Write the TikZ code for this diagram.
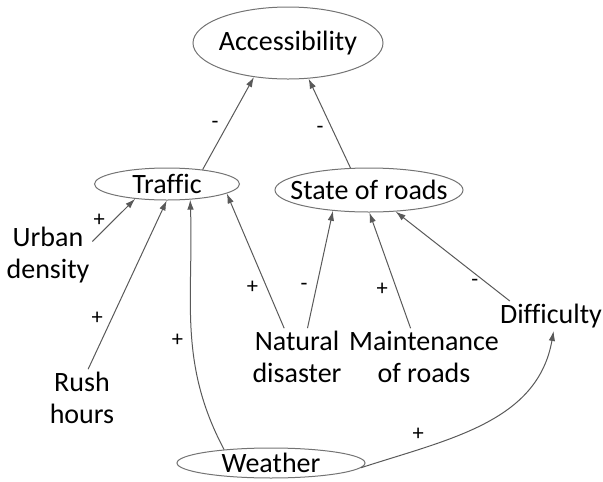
\documentclass[tikz,border=0pt]{standalone}
\usepackage{fontspec}
\setmainfont{Carlito}[Ligatures=CommonOff]
\usetikzlibrary{shapes,arrows.meta}

\begin{document}
\begin{tikzpicture}[x=0.4pt, y=0.4pt, font=\fontsize{11.2}{12.8}\selectfont, >={Latex[length=4pt,width=2.6pt]}]
	\useasboundingbox (0,0) rectangle (603,-482);
	\begin{scope}[every node/.style={ellipse, draw=black!55, thin, inner xsep=-10pt, inner ysep=-2pt}]
		\node[minimum width=76pt, minimum height=28.8pt] (acc) at (288,-43) {Accessibility};
		\node[minimum width=58pt, minimum height=12.8pt] (traffic) at (167,-184) {Traffic};
		\node[minimum width=75.2pt, minimum height=17.6pt] (roads) at (369,-190) {State of roads};
		\node[minimum width=75.2pt, minimum height=12pt] (weather) at (271,-463) {Weather};
	\end{scope}
	\begin{scope}[every node/.style={align=center, inner sep=1pt}]
		\node (urban) at (48,-255) {Urban\\density};
		\node (rush) at (82,-398) {Rush\\hours};
		\node (natural) at (297,-357) {Natural\\disaster};
		\node (maint) at (424,-357) {Maintenance\\of roads};
		\node (diff) at (551,-316) {Difficulty};
	\end{scope}
	\begin{scope}[every edge/.style={draw=black!65, thin, ->}, every node/.style={font=\fontsize{9}{10}\selectfont}]
		\path (traffic.22)
			edge node[left, pos=.48] {-} (acc.-135);
		\path (roads.130)
			edge node[left, pos=.43] {-} (acc.-60);
		\path (urban.17)
			edge node[left, pos=.5] {+} (traffic.-155);
		\path (rush.78)
			edge node[left, pos=.3] {+} (traffic.-91);
		\path (weather.164)
			edge[out=118, in=-88] node[left, pos=.45] {+} (traffic.-34);
		\path (natural.114)
			edge node[left, pos=.3] {+} (traffic.-9);
		\path (natural.70)
			edge node[left, pos=.35] {-} (roads.-150);
		\path (maint.115)
			edge node[left, pos=.34] {+} (roads.-89);
		\path (diff.160)
			edge node[left, pos=.2] {-} (roads.-39);
		\path (weather.-3)
			edge[out=18, in=-100] node[above, pos=.22] {+} (diff.-80);
	\end{scope}
\end{tikzpicture}
\end{document}
